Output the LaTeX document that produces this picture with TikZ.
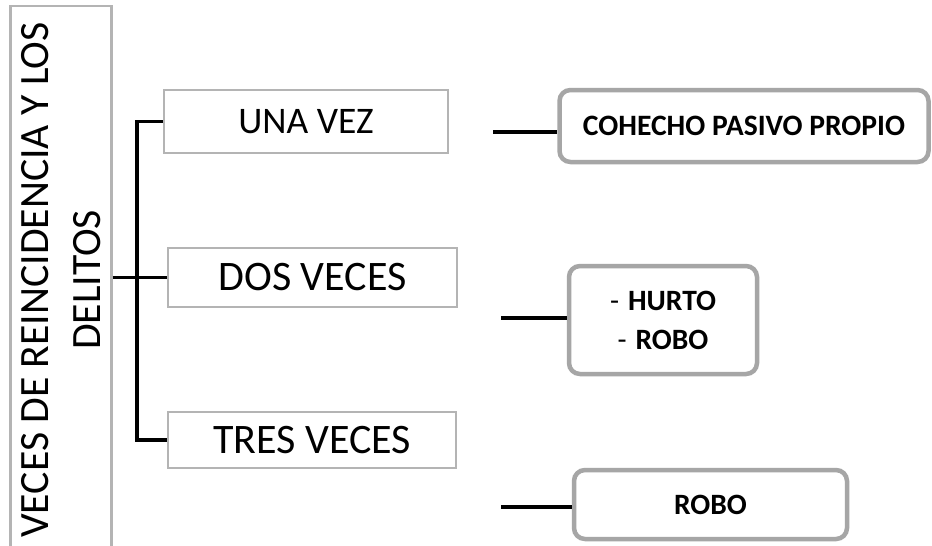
\documentclass[tikz,border=0pt]{standalone}
\usepackage{fontspec}
\setmainfont{Carlito}
\definecolor{rectgray}{HTML}{B4B4B4}
\definecolor{roundgray}{HTML}{A6A6A6}
\tikzset{
  rectbox/.style={draw=rectgray, line width=2.2pt, inner sep=0pt, align=center},
  roundbox/.style={draw=roundgray, line width=4.5pt, rounded corners=11pt, inner sep=0pt, align=center},
  conn/.style={line width=3.4pt, black}
}
\begin{document}
\begin{tikzpicture}[x=1pt,y=-1pt]
\useasboundingbox (0,0) rectangle (932,546);
\clip (0,0) rectangle (932,546);
\fill[white] (0,0) rectangle (932,546);
% main rotated box
\node[rectbox, rotate=90, minimum width=548pt, minimum height=101pt,
      font=\fontsize{41.7}{52}\selectfont] (main) at (61,280)
      {VECES DE REINCIDENCIA Y LOS\\DELITOS};
% level boxes
\node[rectbox, minimum width=284pt, minimum height=63pt, font=\fontsize{37.5}{44}\selectfont] (una) at (306,121.5) {UNA VEZ};
\node[rectbox, minimum width=289pt, minimum height=59pt, font=\fontsize{42}{48}\selectfont] (dos) at (312.5,277.5) {DOS VECES};
\node[rectbox, minimum width=288pt, minimum height=56pt, font=\fontsize{42}{48}\selectfont] (tres) at (312,440) {TRES VECES};
% result boxes
\node[roundbox, minimum width=369pt, minimum height=72pt, font=\bfseries\fontsize{29.6}{36}\selectfont] (coh) at (744,126) {COHECHO PASIVO PROPIO};
\node[roundbox, minimum width=188pt, minimum height=108pt, font=\fontsize{29.5}{39}\selectfont] (hr) at (663,320) {-\hspace{9pt}\textbf{HURTO}\\-\hspace{9pt}\textbf{ROBO}};
\node[roundbox, minimum width=273pt, minimum height=69pt, font=\bfseries\fontsize{29.5}{36}\selectfont] (robo) at (710.5,504.5) {ROBO};
% connectors
\draw[conn] (main.south |- dos.west) -- (dos.west);
\draw[conn] (una.west) -- ++(-26,0) |- (tres.west);
\coordinate (c1) at (493,132);
\coordinate (c2) at (501,318);
\coordinate (c3) at (501,507);
\draw[conn] (c1) -- (c1 -| coh.west);
\draw[conn] (c2) -- (c2 -| hr.west);
\draw[conn] (c3) -- (c3 -| robo.west);
\end{tikzpicture}
\end{document}
